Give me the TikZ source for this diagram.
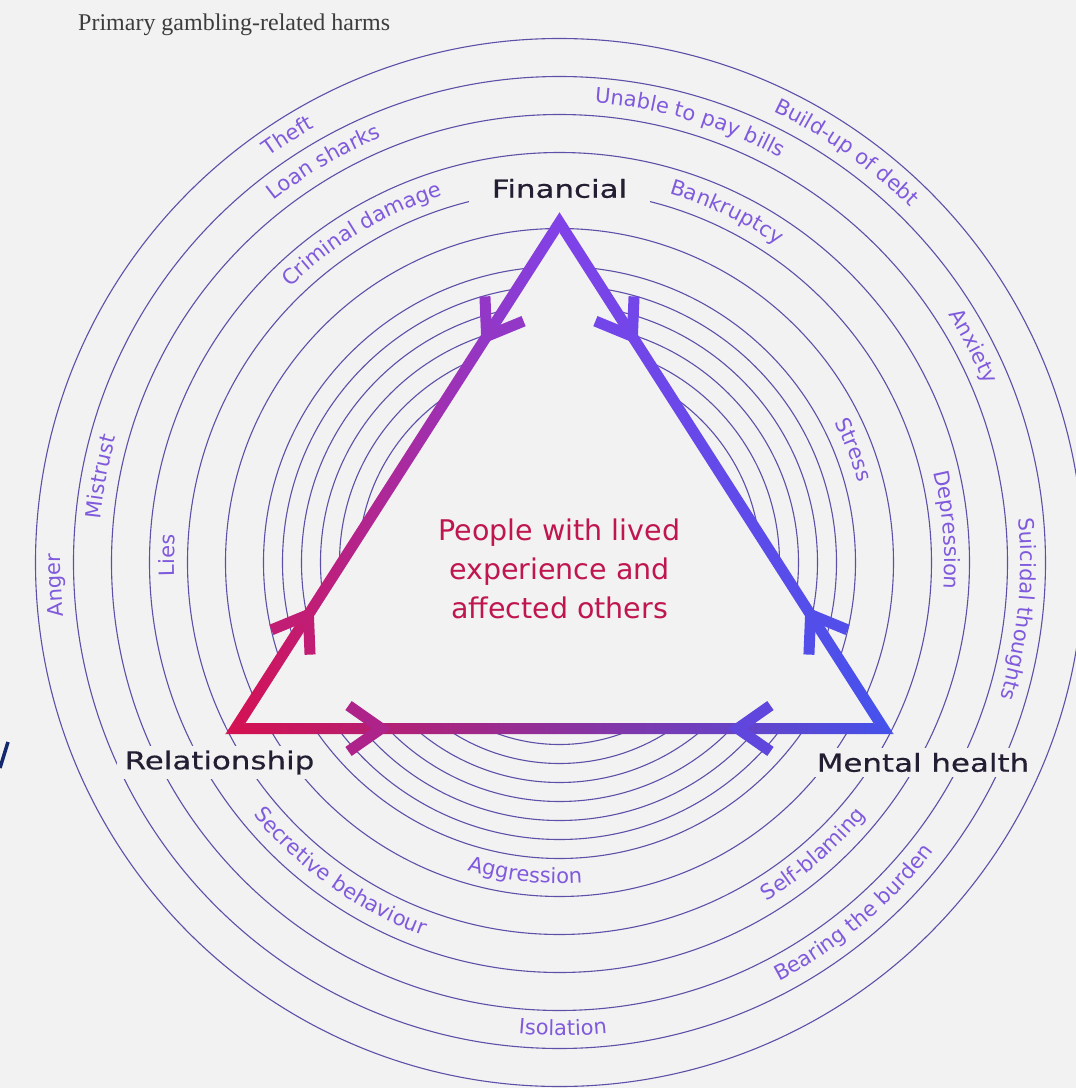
\documentclass[tikz,border=0pt]{standalone}
\usepackage{fontspec}
\usepackage{xcolor}
\usepackage{tikz}
\usetikzlibrary{calc,decorations.text}

\newfontfamily\cornerfont[FakeStretch=1.25,FakeBold=0.5]{DejaVu Sans}
\newfontfamily\ringfont{DejaVu Sans}
\newfontfamily\centrefont{DejaVu Sans}
\newfontfamily\titlefont{Liberation Serif}

\definecolor{bgpaper}{RGB}{242,242,242}
\definecolor{ringline}{RGB}{92,80,168}
\definecolor{ringtext}{RGB}{128,90,220}
\definecolor{labelink}{RGB}{35,30,50}
\definecolor{crimson}{RGB}{214,16,78}
\definecolor{violetapex}{RGB}{128,66,232}
\definecolor{blueedge}{RGB}{68,82,235}
\definecolor{midpurple}{RGB}{128,56,205}
\definecolor{centretext}{RGB}{192,22,78}
\definecolor{titlegray}{RGB}{60,60,60}
\definecolor{slashblue}{RGB}{20,40,110}

\newcommand{\ringstyle}{\ringfont\fontsize{21}{25}\selectfont\color{ringtext}}

\begin{document}
\begin{tikzpicture}[
	x=1pt, y=1pt,
	ring/.style={draw=ringline, line width=1.1pt},
	ring_text/.style={
		decorate,
		decoration={text along path, text align=center, text={|\ringstyle|#1}}
	},
	corner_label/.style={
		fill=bgpaper, text=labelink,
		font=\cornerfont\fontsize{24.7}{30}\selectfont,
		inner xsep=8pt, inner ysep=5pt
	},
	chevron/.style={line width=11pt, line join=miter, line cap=butt}
	]
	% --- 1. BACKGROUND ---
	\path[use as bounding box, fill=bgpaper] (-559.5,-525.5) rectangle (516.5,562.5);
	\clip (-559.5,-525.5) rectangle (516.5,562.5);
	
	% --- 2. CONCENTRIC RINGS ---
	\draw[ring] (0,0) circle[radius=182] (0,0) circle[radius=201]
	(0,0) circle[radius=220] (0,0) circle[radius=239]
	(0,0) circle[radius=258] (0,0) circle[radius=277]
	(0,0) circle[radius=296] (0,0) circle[radius=334]
	(0,0) circle[radius=372] (0,0) circle[radius=410]
	(0,0) circle[radius=448] (0,0) circle[radius=486]
	(0,0) circle[radius=524];
	
	% --- 3. TRIANGLE (gradient edges) ---
	\coordinate (v_fin) at (0,340);
	\coordinate (v_rel) at (-324,-166);
	\coordinate (v_men) at (324,-166);
	\coordinate (v_inc) at (0,11.3);   % incentre, for the mitred outline
	\coordinate (fin_out) at ($(v_inc)!1.031!(v_fin)$);
	\coordinate (fin_in)  at ($(v_inc)!0.969!(v_fin)$);
	\coordinate (rel_out) at ($(v_inc)!1.031!(v_rel)$);
	\coordinate (rel_in)  at ($(v_inc)!0.969!(v_rel)$);
	\coordinate (men_out) at ($(v_inc)!1.031!(v_men)$);
	\coordinate (men_in)  at ($(v_inc)!0.969!(v_men)$);
	
	\fill[bgpaper] (v_fin) -- (v_rel) -- (v_men) -- cycle;
	\draw[midpurple, line width=9pt, line join=miter] (v_fin) -- (v_rel) -- (v_men) -- cycle;
	\shade[left color=crimson, right color=violetapex]
	(rel_out) -- (fin_out) -- (fin_in) -- (rel_in) -- cycle;
	\shade[left color=violetapex, right color=blueedge]
	(fin_out) -- (men_out) -- (men_in) -- (fin_in) -- cycle;
	\shade[left color=crimson, middle color=midpurple, right color=blueedge]
	(rel_out) -- (men_out) -- (men_in) -- (rel_in) -- cycle;
	
	% --- 4. ARROW HEADS ---
	\coordinate (chev_fr) at ($(v_fin)!0.225!(v_rel)$);
	\coordinate (chev_fm) at ($(v_fin)!0.225!(v_men)$);
	\coordinate (chev_rf) at ($(v_rel)!0.225!(v_fin)$);
	\coordinate (chev_rm) at ($(v_rel)!0.225!(v_men)$);
	\coordinate (chev_mf) at ($(v_men)!0.225!(v_fin)$);
	\coordinate (chev_mr) at ($(v_men)!0.225!(v_rel)$);
	
	\draw[chevron, violetapex!78!crimson] ($(chev_fr)!40pt!35:(v_fin)$) -- (chev_fr) -- ($(chev_fr)!40pt!-35:(v_fin)$);
	\draw[chevron, violetapex!78!blueedge] ($(chev_fm)!40pt!35:(v_fin)$) -- (chev_fm) -- ($(chev_fm)!40pt!-35:(v_fin)$);
	\draw[chevron, crimson!75!violetapex] ($(chev_rf)!40pt!35:(v_rel)$) -- (chev_rf) -- ($(chev_rf)!40pt!-35:(v_rel)$);
	\draw[chevron, crimson!53!midpurple] ($(chev_rm)!40pt!35:(v_rel)$) -- (chev_rm) -- ($(chev_rm)!40pt!-35:(v_rel)$);
	\draw[chevron, blueedge!75!violetapex] ($(chev_mf)!40pt!35:(v_men)$) -- (chev_mf) -- ($(chev_mf)!40pt!-35:(v_men)$);
	\draw[chevron, blueedge!53!midpurple] ($(chev_mr)!40pt!35:(v_men)$) -- (chev_mr) -- ($(chev_mr)!40pt!-35:(v_men)$);
	
	% --- 5. CORNER LABELS ---
	\node[corner_label, inner xsep=23pt] (lbl_fin) at (0,374) {Financial};
	\node[corner_label] (lbl_rel) at (-340,-200) {Relationship};
	\node[corner_label] (lbl_men) at (363.5,-200) {Mental health};
	
	% --- 6. HARMS ALONG THE RINGS ---
	% upper half: read clockwise
	\path[ring_text={Theft}] (162.5:499) arc[start angle=162.5, end angle=82.5, radius=499];
	\path[ring_text={Loan sharks}] (160.5:461) arc[start angle=160.5, end angle=80.5, radius=461];
	\path[ring_text={Criminal damage}] (161:385) arc[start angle=161, end angle=81, radius=385];
	\path[ring_text={Unable to pay bills}] (113.5:461) arc[start angle=113.5, end angle=33.5, radius=461];
	\path[ring_text={Build-up of debt}] (95:499) arc[start angle=95, end angle=15, radius=499];
	\path[ring_text={Bankruptcy}] (104.5:385) arc[start angle=104.5, end angle=24.5, radius=385];
	\path[ring_text={Anxiety}] (67.6:461) arc[start angle=67.6, end angle=-12.4, radius=461];
	\path[ring_text={Stress}] (61:309) arc[start angle=61, end angle=-19, radius=309];
	\path[ring_text={Depression}] (44.8:385) arc[start angle=44.8, end angle=-35.2, radius=385];
	\path[ring_text={Suicidal thoughts}] (34.2:461) arc[start angle=34.2, end angle=-45.8, radius=461];
	\path[ring_text={Anger}] (222.6:499) arc[start angle=222.6, end angle=142.6, radius=499];
	\path[ring_text={Mistrust}] (209.4:461) arc[start angle=209.4, end angle=129.4, radius=461];
	\path[ring_text={Lies}] (219:385) arc[start angle=219, end angle=139, radius=385];
	% lower half: read anticlockwise
	\path[ring_text={Secretive behaviour}] (-165.3:397) arc[start angle=-165.3, end angle=-85.3, radius=397];
	\path[ring_text={Aggression}] (-136.3:321) arc[start angle=-136.3, end angle=-56.3, radius=321];
	\path[ring_text={Isolation}] (-129.6:473) arc[start angle=-129.6, end angle=-49.6, radius=473];
	\path[ring_text={Self-blaming}] (-89:397) arc[start angle=-89, end angle=-9, radius=397];
	\path[ring_text={Bearing the burden}] (-90:473) arc[start angle=-90, end angle=-10, radius=473];
	
	% --- 7. CENTRE AND TITLE ---
	\node[font=\centrefont\fontsize{28.5}{39}\selectfont, text=centretext, align=center] (lived_exp) at (0,-6)
	{People with lived\\experience and\\affected others};
	\node[anchor=base west, inner sep=0pt, font=\titlefont\fontsize{24}{28}\selectfont, text=titlegray] (title) at (-481.5,531.5)
	{Primary gambling-related harms};
	
	\draw[slashblue, line width=3.5pt] (-551.5,-179.5) -- (-559.5,-205.5);
	
\end{tikzpicture}
\end{document}
